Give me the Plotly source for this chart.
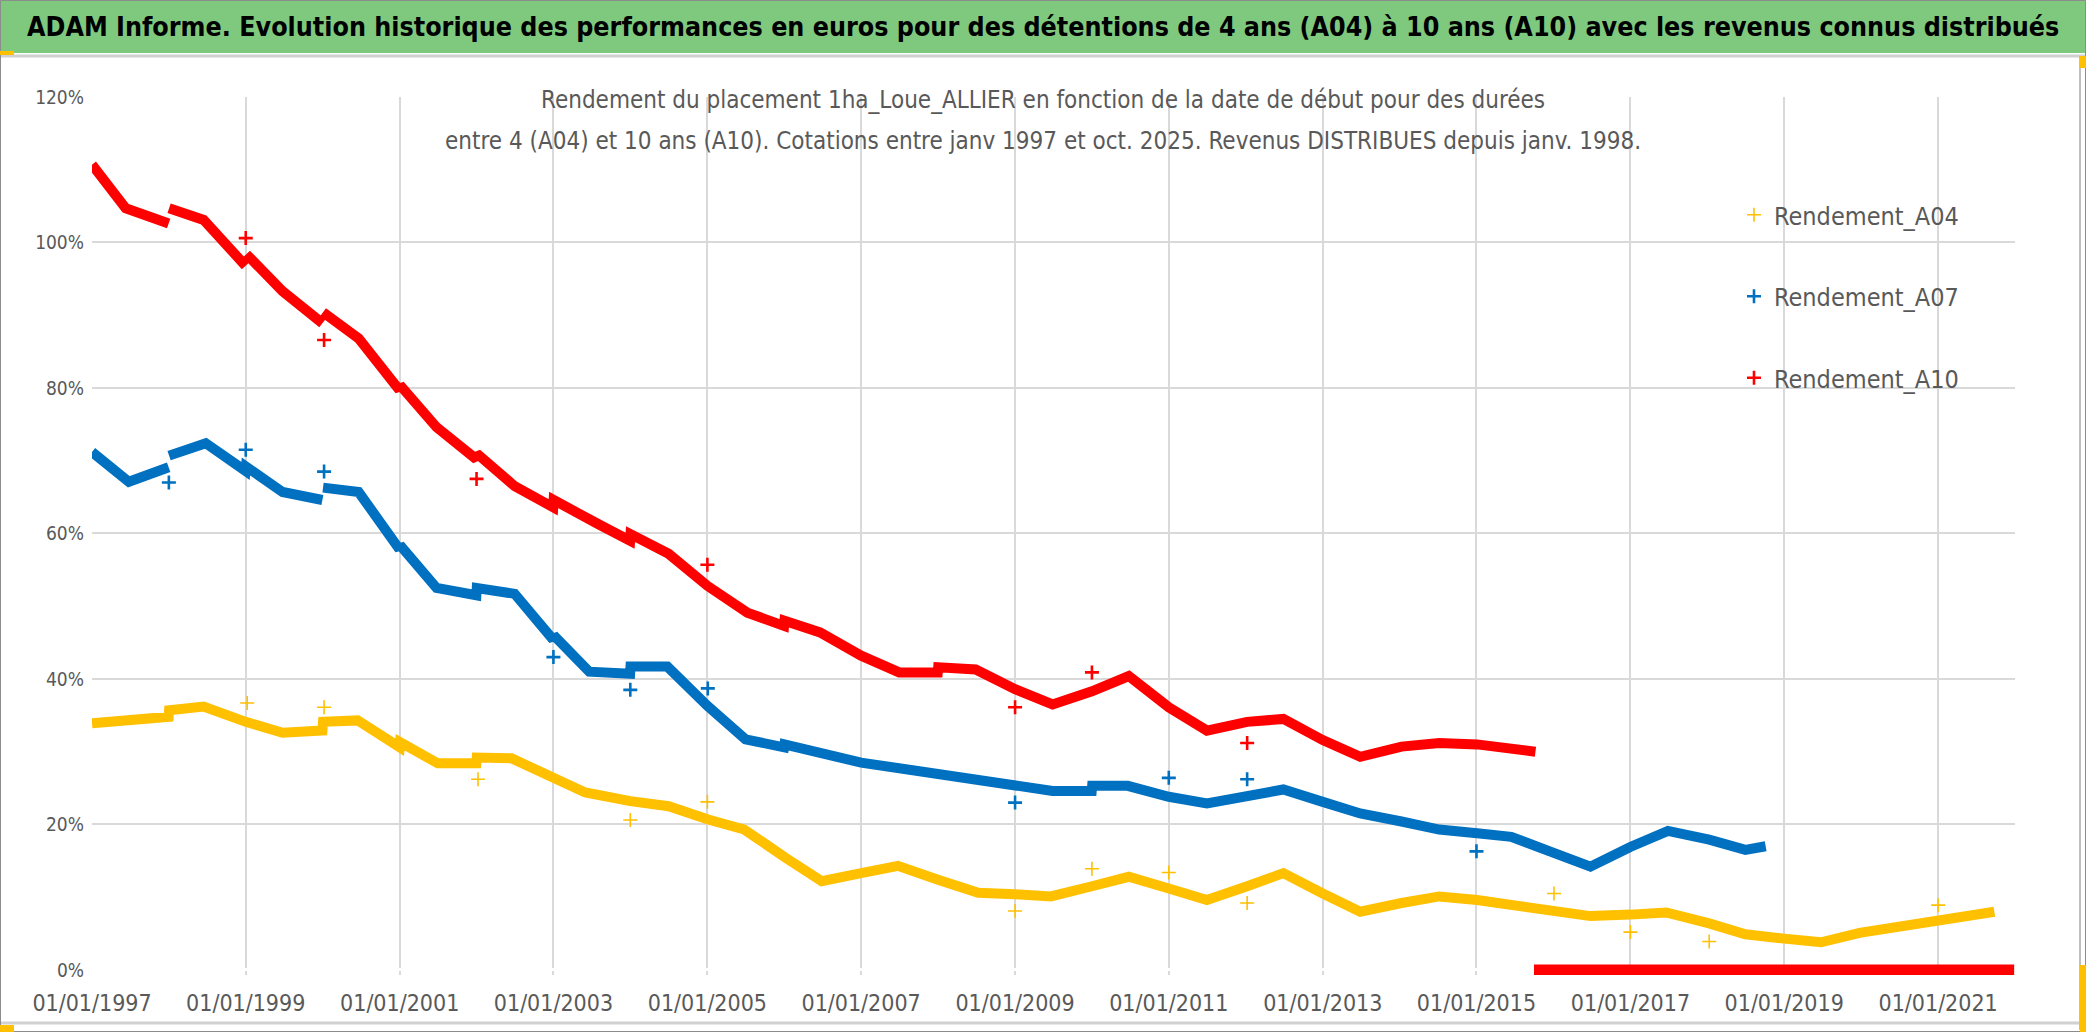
import plotly.graph_objects as go

# ---------------- data ----------------
title_text = ("ADAM Informe. Evolution historique des performances en euros pour des détentions "
              "de 4 ans (A04) à 10 ans (A10) avec les revenus connus distribués")
subtitle_line1 = "Rendement du placement 1ha_Loue_ALLIER en fonction de la date de début pour des durées"
subtitle_line2 = ("entre 4 (A04) et 10 ans (A10). Cotations entre janv 1997 et oct. 2025. "
                  "Revenus DISTRIBUES depuis janv. 1998.")
series_names = ["Rendement_A04", "Rendement_A07", "Rendement_A10"]

# A10 (red) main curve, None = break between segments
a10_dates = ["1997-01-01", "1997-06-10", "1997-12-31", None,
             "1998-01-02", "1998-06-15", "1998-12-31", None,
             "1999-01-04", "1999-06-25", "1999-12-31", None,
             "2000-01-03", "2000-06-20", "2000-12-31", "2001-01-02", "2001-06-25", "2001-12-31",
             "2002-01-02", "2002-07-01", "2002-12-31", "2003-01-02", "2003-08-01", "2003-12-31",
             "2004-01-02", "2004-07-01", "2005-01-01", "2005-07-10", "2005-12-31", "2006-01-02",
             "2006-06-20", "2007-01-01", "2007-07-01", "2007-12-31", "2008-01-02", "2008-06-28",
             "2009-01-01", "2009-06-28", "2010-01-01", "2010-06-25", "2011-01-01", "2011-07-01",
             "2012-01-08", "2012-06-28", "2013-01-01", "2013-06-28", "2014-01-10", "2014-07-08",
             "2015-01-04", "2015-05-30", "2015-10-08"]
a10_values = [110.7, 104.7, 102.6, None,
              104.7, 103.1, 96.8, None,
              98.4, 93.3, 88.9, None,
              90.4, 86.8, 79.7, 80.4, 74.6, 70.2,
              71.0, 66.5, 63.6, 64.6, 61.3, 59.0,
              59.9, 57.2, 52.8, 49.1, 47.3, 48.0,
              46.4, 43.2, 40.9, 40.9, 41.6, 41.3,
              38.6, 36.5, 38.3, 40.4, 36.1, 32.9,
              34.1, 34.5, 31.6, 29.3, 30.7, 31.2,
              31.0, 30.5, 30.0]
# A10 start dates with no 10-year result yet (plotted at 0 %)
a10_zero_dates = ["2015-10-01", "2021-12-28"]
a10_zero_values = [0.0, 0.0]
a10_out_dates = ["1999-01-01", "2000-01-08", "2002-01-01", "2005-01-01", "2009-01-01",
                 "2010-01-01", "2012-01-08"]
a10_out_values = [100.6, 86.6, 67.5, 55.7, 36.1, 40.9, 31.2]

# A07 (blue)
a07_dates = ["1997-01-01", "1997-06-25", "1997-12-31", None,
             "1998-01-02", "1998-06-25", "1998-12-31", "1999-01-02", "1999-06-25", "1999-12-31", None,
             "2000-01-03", "2000-06-20", "2000-12-31", "2001-01-02", "2001-06-25", "2001-12-31",
             "2002-01-02", "2002-07-01", "2002-12-31", "2003-01-02", "2003-06-20", "2003-12-31",
             "2004-01-02", "2004-06-25", "2005-01-01", "2005-07-01", "2005-12-31", "2006-01-02",
             "2007-01-01", "2008-01-01", "2009-01-01", "2009-06-28", "2009-12-31", "2010-01-02",
             "2010-06-20", "2011-01-01", "2011-07-01", "2012-01-08", "2012-06-28", "2013-01-01",
             "2013-06-28", "2014-01-10", "2014-07-08", "2015-01-04", "2015-06-15", "2015-12-15",
             "2016-06-25", "2016-12-31", "2017-06-28", "2018-01-10", "2018-07-01", "2018-10-05"]
a07_values = [71.2, 67.1, 69.1, None,
              70.7, 72.4, 68.6, 69.2, 65.7, 64.6, None,
              66.3, 65.7, 57.8, 58.4, 52.5, 51.5,
              52.5, 51.7, 45.4, 46.0, 41.0, 40.7,
              41.7, 41.7, 36.3, 31.7, 30.6, 31.0,
              28.5, 26.9, 25.5, 24.6, 24.6, 25.3,
              25.3, 23.8, 22.9, 23.8, 24.8, 23.1,
              21.5, 20.4, 19.3, 18.8, 18.3, 16.3,
              14.2, 16.9, 19.1, 17.9, 16.5, 17.0]
a07_out_dates = ["1998-01-01", "1999-01-01", "2000-01-08", "2003-01-01", "2004-01-01",
                 "2005-01-03", "2009-01-01", "2011-01-01", "2012-01-08", "2015-01-01"]
a07_out_values = [67.0, 71.5, 68.5, 43.0, 38.5, 38.7, 23.0, 26.4, 26.2, 16.3]

# A04 (yellow)
a04_dates = ["1997-01-01", "1997-12-31", "1998-01-02", "1998-06-15", "1999-01-01", "1999-06-25",
             "1999-12-31", "2000-01-03", "2000-06-15", "2001-01-01", "2001-01-03", "2001-07-01",
             "2001-12-31", "2002-01-02", "2002-06-15", "2003-01-01", "2003-06-01", "2004-01-01",
             "2004-07-01", "2005-01-01", "2005-06-25", "2006-01-08", "2006-06-28", "2007-01-01",
             "2007-06-25", "2008-01-01", "2008-07-10", "2009-01-01", "2009-06-20", "2010-01-01",
             "2010-06-25", "2011-01-01", "2011-07-01", "2012-01-08", "2012-06-28", "2013-01-01",
             "2013-06-28", "2014-01-10", "2014-07-08", "2015-01-04", "2015-06-15", "2015-12-15",
             "2016-06-25", "2016-12-31", "2017-06-20", "2018-01-10", "2018-07-01", "2019-01-01",
             "2019-06-25", "2019-12-25", "2020-07-01", "2021-01-01", "2021-06-28", "2021-09-25"]
a04_values = [33.9, 34.8, 35.7, 36.2, 34.1, 32.6,
              32.9, 34.1, 34.3, 30.6, 31.3, 28.4,
              28.4, 29.2, 29.1, 26.4, 24.4, 23.2,
              22.5, 20.7, 19.3, 15.4, 12.2, 13.3,
              14.3, 12.4, 10.6, 10.4, 10.1, 11.5,
              12.8, 11.2, 9.6, 11.5, 13.3, 10.5,
              8.0, 9.2, 10.1, 9.6, 9.0, 8.3,
              7.4, 7.6, 7.9, 6.4, 4.9, 4.3,
              3.8, 5.1, 6.0, 6.7, 7.8, 8.0]
a04_out_dates = ["1999-01-08", "2000-01-08", "2002-01-08", "2004-01-01", "2005-01-01",
                 "2009-01-01", "2010-01-01", "2011-01-01", "2012-01-08", "2016-01-04",
                 "2017-01-01", "2018-01-10", "2021-01-01"]
a04_out_values = [36.7, 36.1, 26.2, 20.6, 23.1, 8.1, 13.9, 13.4, 9.2, 10.5, 5.2, 3.9, 8.9]

y_ticks = [0, 20, 40, 60, 80, 100, 120]
x_range = ["1997-01-01", "2022-01-01"]
y_range = [-0.7, 120]

# ---------------- styling ----------------
W, H = 2086, 1032
ML, MR, MT, MB = 92, 71, 97, 57
PW = W - ML - MR
PH = H - MT - MB


def px_x(X):
    return (X - ML) / PW


def px_y(Y):
    return (H - MB - Y) / PH


FONT = "Liberation Sans Narrow, Arial Narrow, DejaVu Sans Condensed, Roboto Condensed, sans-serif"
GRAY_TXT = "#595959"
GRID = "#D9D9D9"
C04, C07, C10 = "#FFC000", "#0070C0", "#FF0000"

fig = go.Figure()

line_sets = [
    (a04_dates, a04_values, C04, "g04", 10),
    (a07_dates, a07_values, C07, "g07", 10),
    (a10_dates, a10_values, C10, "g10", 10),
    (a10_zero_dates, a10_zero_values, C10, "g10", 11),
]
for xs, ys, col, grp, w in line_sets:
    fig.add_trace(go.Scatter(
        x=xs, y=ys, mode="lines", connectgaps=False,
        line=dict(color=col, width=w),
        showlegend=False, hoverinfo="skip", legendgroup=grp,
    ))

out_sets = [
    (a04_out_dates, a04_out_values, C04, series_names[0], "g04", 1.6),
    (a07_out_dates, a07_out_values, C07, series_names[1], "g07", 2.6),
    (a10_out_dates, a10_out_values, C10, series_names[2], "g10", 2.6),
]
for xs, ys, col, name, grp, lw in out_sets:
    fig.add_trace(go.Scatter(
        x=xs, y=ys, mode="markers", name=name, legendgroup=grp,
        marker=dict(symbol="cross-thin", size=10, color=col, line=dict(color=col, width=lw)),
    ))

shapes = [
    # title bar
    dict(type="rect", xref="paper", yref="paper", x0=px_x(0), x1=px_x(W), y0=px_y(53), y1=px_y(0),
         fillcolor="#7FC97F", line=dict(width=0), layer="above"),
    dict(type="line", xref="paper", yref="paper", x0=px_x(0), x1=px_x(W), y0=px_y(56), y1=px_y(56),
         line=dict(color="#D0D0D0", width=3), layer="above"),
    # white box behind subtitle
    dict(type="rect", xref="paper", yref="paper", x0=px_x(425), x1=px_x(1654), y0=px_y(165), y1=px_y(70),
         fillcolor="white", line=dict(width=0), layer="between"),
    # white box behind legend
    dict(type="rect", xref="paper", yref="paper", x0=px_x(1702), x1=px_x(2015), y0=px_y(422), y1=px_y(182),
         fillcolor="white", line=dict(width=0), layer="between"),
    # bottom frame line
    dict(type="line", xref="paper", yref="paper", x0=px_x(0), x1=px_x(2080), y0=px_y(1023), y1=px_y(1023),
         line=dict(color="#D0D0D0", width=3), layer="above"),
    # right frame line
    dict(type="line", xref="paper", yref="paper", x0=px_x(2080), x1=px_x(2080), y0=px_y(56), y1=px_y(1030),
         line=dict(color="#BFBFBF", width=2), layer="above"),
    # outer border
    dict(type="rect", xref="paper", yref="paper", x0=px_x(0.5), x1=px_x(W - 0.5), y0=px_y(H - 0.5), y1=px_y(0.5),
         fillcolor="rgba(0,0,0,0)", line=dict(color="#8C8C8C", width=1), layer="above"),
    # excel selection handles
    dict(type="rect", xref="paper", yref="paper", x0=px_x(0), x1=px_x(14), y0=px_y(1032), y1=px_y(1025),
         fillcolor="#FFC000", line=dict(width=0), layer="above"),
    dict(type="rect", xref="paper", yref="paper", x0=px_x(0), x1=px_x(14), y0=px_y(55), y1=px_y(51),
         fillcolor="#FFC000", line=dict(width=0), layer="above"),
    dict(type="rect", xref="paper", yref="paper", x0=px_x(2080), x1=px_x(2086), y0=px_y(1032), y1=px_y(965),
         fillcolor="#FFC000", line=dict(width=0), layer="above"),
    dict(type="rect", xref="paper", yref="paper", x0=px_x(2080), x1=px_x(2086), y0=px_y(68), y1=px_y(56),
         fillcolor="#FFC000", line=dict(width=0), layer="above"),
]

annotations = [
    dict(text="<b>" + title_text + "</b>", xref="paper", yref="paper", x=px_x(W / 2), y=px_y(27),
         xanchor="center", yanchor="middle", showarrow=False,
         font=dict(family=FONT, size=26.6, color="#000000")),
    dict(text=subtitle_line1, xref="paper", yref="paper", x=px_x(1043), y=px_y(100),
         xanchor="center", yanchor="middle", showarrow=False,
         font=dict(family=FONT, size=24, color=GRAY_TXT)),
    dict(text=subtitle_line2, xref="paper", yref="paper", x=px_x(1043), y=px_y(141),
         xanchor="center", yanchor="middle", showarrow=False,
         font=dict(family=FONT, size=24, color=GRAY_TXT)),
]

fig.update_layout(
    width=W, height=H,
    margin=dict(l=ML, r=MR, t=MT, b=MB, autoexpand=False),
    paper_bgcolor="white", plot_bgcolor="white",
    shapes=shapes, annotations=annotations,
    showlegend=True,
    legend=dict(x=px_x(1734), y=px_y(192), xanchor="left", yanchor="top",
                bgcolor="rgba(0,0,0,0)", tracegroupgap=46,
                font=dict(family=FONT, size=25, color=GRAY_TXT)),
    xaxis=dict(type="date", range=x_range, tick0="1997-01-01", dtick="M24",
               tickformat="%d/%m/%Y", showgrid=True, gridcolor=GRID, gridwidth=2,
               zeroline=False, showline=False, ticks="", ticklabelstandoff=12,
               tickfont=dict(family=FONT, size=23, color=GRAY_TXT)),
    yaxis=dict(range=y_range, tickvals=y_ticks, ticktext=[f"{v}%" for v in y_ticks],
               showgrid=True, gridcolor=GRID, gridwidth=2,
               zeroline=True, zerolinecolor="white", zerolinewidth=3,
               showline=False, ticks="", ticklabelstandoff=7,
               tickfont=dict(family=FONT, size=19, color=GRAY_TXT)),
)

fig.write_html("out.html", config={"displayModeBar": False},
               post_script="document.body.style.margin='0';document.body.style.overflow='hidden';")
